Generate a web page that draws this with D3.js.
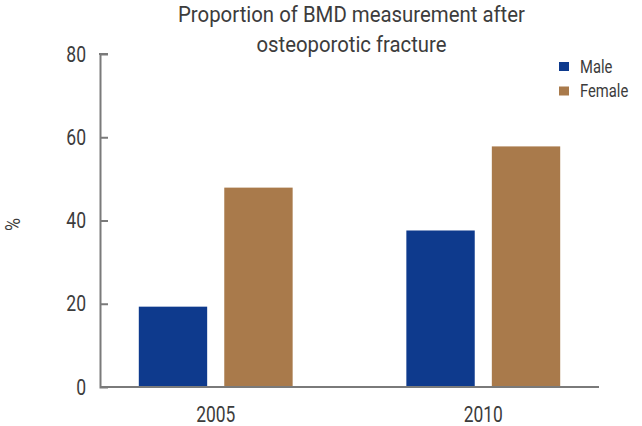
<!DOCTYPE html>
<html>
<head>
<meta charset="utf-8">
<script src="https://cdn.jsdelivr.net/npm/d3@7"></script>
<style>
  body { margin: 0; background: #fff; }
  svg text { font-family: Roboto, "Noto Sans", sans-serif; }
</style>
</head>
<body>
<div id="chart"></div>
<script>
// data
const years = ['2005', '2010'];
const groups = ['Male', 'Female'];
const male = [19.3, 37.6];
const female = [47.9, 57.8];
const yTicks = [0, 20, 40, 60, 80];
const colors = ['#0e3a8d', '#a97a4b'];

const width = 642;
const height = 426;
const margin = { top: 54, right: 43, bottom: 39, left: 100 };
const textColor = '#3c3c3c';

const rows = years.map((y, i) => ({ year: y, values: [male[i], female[i]] }));

// squeeze text horizontally, the original uses a condensed face
function condense(sel, k) {
  sel.each(function () {
    const w = this.getComputedTextLength();
    d3.select(this).attr('textLength', w * k).attr('lengthAdjust', 'spacingAndGlyphs');
  });
}

const svg = d3.select('#chart').append('svg')
  .attr('width', width)
  .attr('height', height);

const x0 = d3.scaleBand()
  .domain(years)
  .range([margin.left, width - margin.right])
  .paddingInner(0.425)
  .paddingOuter(0.145);

const x1 = d3.scaleBand()
  .domain(groups)
  .range([0, x0.bandwidth()])
  .paddingInner(0.2);

const y = d3.scaleLinear()
  .domain([0, 80])
  .range([height - margin.bottom, margin.top]);

// bars
const g = svg.append('g')
  .selectAll('g')
  .data(rows)
  .join('g')
  .attr('transform', (d) => `translate(${x0(d.year)},0)`);

g.selectAll('rect')
  .data((d) => d.values.map((v, i) => ({ key: groups[i], value: v })))
  .join('rect')
  .attr('x', (d) => x1(d.key))
  .attr('y', (d) => y(d.value))
  .attr('width', x1.bandwidth())
  .attr('height', (d) => y(0) - y(d.value))
  .attr('fill', (d, i) => colors[i]);

// y axis, ticks pointing inward
const yAxis = svg.append('g')
  .attr('transform', `translate(${margin.left},0)`)
  .call(d3.axisLeft(y).tickValues(yTicks).tickSize(-8).tickPadding(14));
yAxis.select('.domain').attr('stroke', '#7a7a7a').attr('stroke-width', 2);
yAxis.selectAll('.tick line').attr('stroke', '#7a7a7a').attr('stroke-width', 2);
yAxis.selectAll('.tick text')
  .attr('fill', textColor)
  .style('font-size', '22.5px')
  .call(condense, 0.78);
yAxis.select('.tick:last-of-type line').remove();
yAxis.select('.tick:first-of-type line').remove();

// x axis
const xAxis = svg.append('g')
  .attr('transform', `translate(0,${y(0)})`)
  .call(d3.axisBottom(x0).tickSize(0).tickPadding(19).tickSizeOuter(0));
xAxis.select('.domain')
  .attr('d', `M${margin.left},0H${width - margin.right}`)
  .attr('stroke', '#7a7a7a').attr('stroke-width', 2);
xAxis.selectAll('.tick text')
  .attr('fill', textColor)
  .style('font-size', '22px')
  .call(condense, 0.79);

// small cap on top of y axis
svg.append('line')
  .attr('x1', margin.left - 1).attr('x2', margin.left + 8)
  .attr('y1', y(80)).attr('y2', y(80))
  .attr('stroke', '#7a7a7a').attr('stroke-width', 2);

// y label
svg.append('text')
  .attr('transform', `translate(20,${(y(0) + y(80)) / 2 + 4}) rotate(-90)`)
  .attr('text-anchor', 'middle')
  .attr('fill', textColor)
  .style('font-size', '21px')
  .text('%')
  .call(condense, 0.85);

// title
const title = svg.append('text')
  .attr('text-anchor', 'middle')
  .attr('fill', textColor)
  .style('font-size', '22.5px');
title.append('tspan').attr('x', 351.5).attr('y', 21.5)
  .attr('textLength', 347).attr('lengthAdjust', 'spacingAndGlyphs')
  .text('Proportion of BMD measurement after');
title.append('tspan').attr('x', 351.5).attr('y', 52)
  .attr('textLength', 190).attr('lengthAdjust', 'spacingAndGlyphs')
  .text('osteoporotic fracture');

// legend
const legend = svg.append('g').attr('transform', 'translate(559,62)');
const items = legend.selectAll('g')
  .data(groups)
  .join('g')
  .attr('transform', (d, i) => `translate(0,${i * 24.5})`);
items.append('rect')
  .attr('width', 10).attr('height', 9)
  .attr('fill', (d, i) => colors[i]);
items.append('text')
  .attr('x', 21).attr('y', 10.5)
  .attr('fill', textColor)
  .style('font-size', '18px')
  .text((d) => d)
  .call(condense, 0.82);
</script>
</body>
</html>
